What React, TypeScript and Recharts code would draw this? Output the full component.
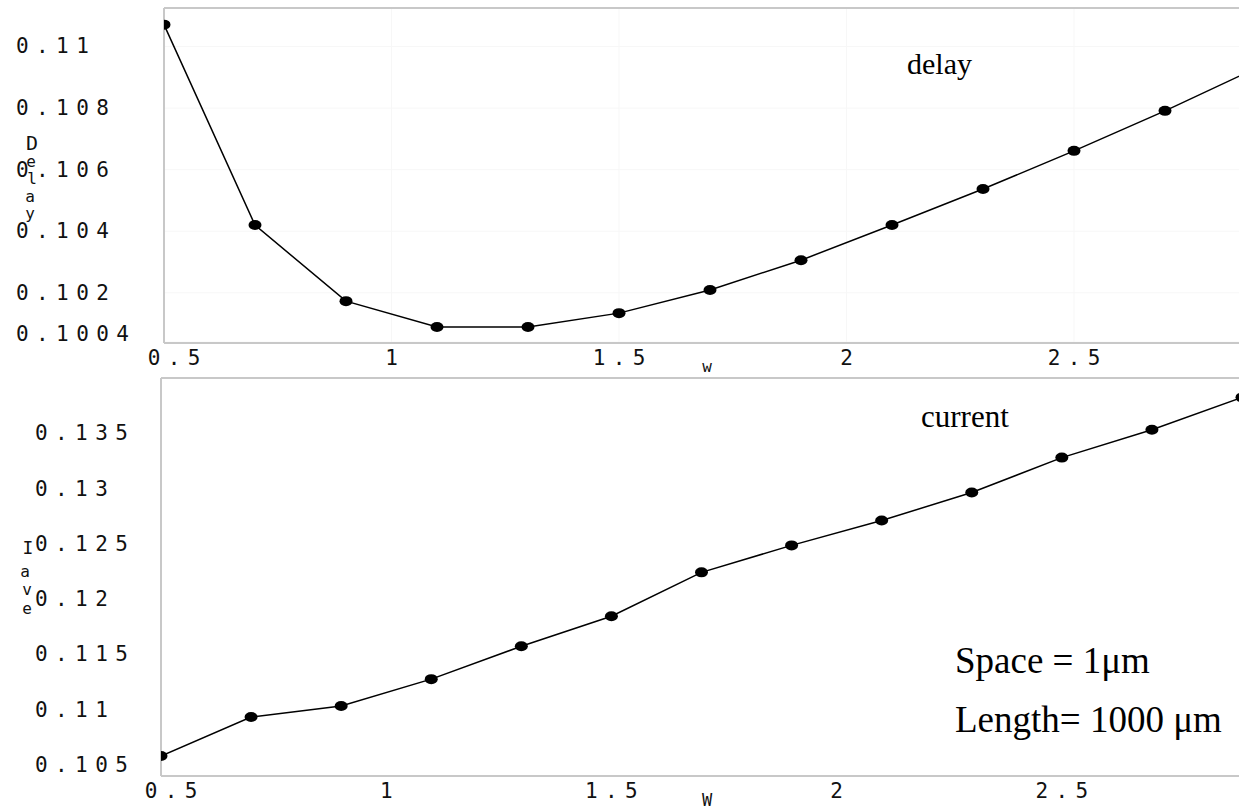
import { CartesianGrid, Line, LineChart, ReferenceLine, XAxis, YAxis } from "recharts";

// W sweep (um) shared by both panels
const widthValues = [0.5, 0.7, 0.9, 1.1, 1.3, 1.5, 1.7, 1.9, 2.1, 2.3, 2.5, 2.7, 2.9];
const delayValues = [0.11071, 0.1042, 0.10173, 0.10089, 0.10089, 0.10134, 0.10209, 0.10306, 0.1042, 0.10537, 0.10661, 0.10791, 0.10929];
const currentValues = [0.10581, 0.10933, 0.11033, 0.11276, 0.11574, 0.11845, 0.12242, 0.12486, 0.12711, 0.12964, 0.1328, 0.13532, 0.13825];

const xTicks = [0.5, 1, 1.5, 2, 2.5];
const delayTicks = [0.1004, 0.102, 0.104, 0.106, 0.108, 0.11];
const currentTicks = [0.105, 0.11, 0.115, 0.12, 0.125, 0.13, 0.135];

const delayDomain: [number, number] = [0.10037, 0.11125];
const currentDomain: [number, number] = [0.104, 0.14];

const delayData = widthValues.map((w, i) => ({ w, delay: delayValues[i] }));
const currentData = widthValues.map((w, i) => ({ w, current: currentValues[i] }));

const FRAME = "#c8c8c8";
const monoFont = "'DejaVu Sans Mono', monospace";
const serifFont = "'Liberation Serif', 'Times New Roman', serif";
const SPACING = 7.4;

const tickText = {
  fontFamily: monoFont,
  fontSize: 21,
  letterSpacing: SPACING,
  fill: "#111",
};

function XTick(props: any) {
  const { x, y, payload, index } = props;
  return (
    <text x={x + SPACING / 2 + (index === 0 ? 10 : 0)} y={y + 7} textAnchor="middle" dominantBaseline="central" style={tickText}>
      {payload.value}
    </text>
  );
}

function makeYTick(left: number, firstShift: number) {
  return (props: any) => {
    const { y, payload, index } = props;
    return (
      <text x={left} y={y - (index === 0 ? firstShift : 0)} textAnchor="start" dominantBaseline="central" style={tickText}>
        {payload.value}
      </text>
    );
  };
}

function DotMark(props: any) {
  const { cx, cy, index } = props;
  if (cx == null || cy == null) return null;
  return <ellipse key={`dot-${index}`} cx={cx} cy={cy} rx={6.5} ry={5} fill="#000" />;
}

const smallLetter = { fontFamily: monoFont, fontSize: 16, fill: "#111" };

export default function App() {
  return (
    <div style={{ position: "absolute", left: 0, top: 0, width: 1239, height: 812, overflow: "hidden", background: "#fff" }}>
      <div style={{ position: "absolute", left: 0, top: 0 }}>
        <LineChart width={1270} height={380} data={delayData} margin={{ top: 8, right: 14, bottom: 0, left: 16 }}>
          <CartesianGrid stroke="#f7f7f7" />
          <XAxis
            type="number"
            dataKey="w"
            domain={[0.5, 2.9]}
            ticks={xTicks}
            height={37}
            axisLine={{ stroke: FRAME, strokeWidth: 2 }}
            tickLine={false}
            tick={<XTick />}
            allowDataOverflow
          />
          <YAxis
            type="number"
            domain={delayDomain}
            ticks={delayTicks}
            width={148}
            axisLine={{ stroke: FRAME, strokeWidth: 2 }}
            tickLine={false}
            tick={makeYTick(16, 8)}
            allowDataOverflow
          />
          <ReferenceLine y={delayDomain[1]} stroke={FRAME} strokeWidth={2} />
          <Line dataKey="delay" stroke="#000" strokeWidth={1.5} dot={<DotMark />} isAnimationActive={false} />
        </LineChart>
      </div>

      <div style={{ position: "absolute", left: 0, top: 370 }}>
        <LineChart width={1256} height={442} data={currentData} margin={{ top: 8, right: 14, bottom: 0, left: 0 }}>
          <XAxis
            type="number"
            dataKey="w"
            domain={[0.5, 2.9]}
            ticks={xTicks}
            height={36}
            axisLine={{ stroke: FRAME, strokeWidth: 2 }}
            tickLine={false}
            tick={<XTick />}
            allowDataOverflow
          />
          <YAxis
            type="number"
            domain={currentDomain}
            ticks={currentTicks}
            width={161}
            axisLine={{ stroke: FRAME, strokeWidth: 2 }}
            tickLine={false}
            tick={makeYTick(35, 0)}
            allowDataOverflow
          />
          <ReferenceLine y={currentDomain[1]} stroke={FRAME} strokeWidth={2} />
          <Line dataKey="current" stroke="#000" strokeWidth={1.5} dot={<DotMark />} isAnimationActive={false} />
        </LineChart>
      </div>

      <svg width={1239} height={812} style={{ position: "absolute", left: 0, top: 0, pointerEvents: "none" }}>
        {/* axis names, stacked letter by letter */}
        <text x={32} y={143} textAnchor="middle" dominantBaseline="central" style={{ ...smallLetter, fontSize: 20 }}>D</text>
        <text x={31} y={161} textAnchor="middle" dominantBaseline="central" style={smallLetter}>e</text>
        <text x={32} y={178} textAnchor="middle" dominantBaseline="central" style={smallLetter}>l</text>
        <text x={30} y={196} textAnchor="middle" dominantBaseline="central" style={smallLetter}>a</text>
        <text x={30} y={213} textAnchor="middle" dominantBaseline="central" style={smallLetter}>y</text>

        <text x={28} y={547} textAnchor="middle" dominantBaseline="central" style={{ ...smallLetter, fontSize: 18 }}>I</text>
        <text x={25} y={571} textAnchor="middle" dominantBaseline="central" style={smallLetter}>a</text>
        <text x={27} y={589} textAnchor="middle" dominantBaseline="central" style={smallLetter}>v</text>
        <text x={27} y={608} textAnchor="middle" dominantBaseline="central" style={smallLetter}>e</text>

        <text x={707} y={366} textAnchor="middle" dominantBaseline="central" style={smallLetter}>w</text>
        <text x={707} y={800} textAnchor="middle" dominantBaseline="central" style={{ ...smallLetter, fontSize: 17 }}>W</text>

        {/* annotations */}
        <text x={907} y={74} style={{ fontFamily: serifFont, fontSize: 30, fill: "#000" }}>delay</text>
        <text x={921} y={427} style={{ fontFamily: serifFont, fontSize: 31, fill: "#000" }}>current</text>
        <text x={955} y={673} style={{ fontFamily: serifFont, fontSize: 37, fill: "#000" }}>Space = 1μm</text>
        <text x={955} y={732} style={{ fontFamily: serifFont, fontSize: 37, fill: "#000" }}>Length= 1000 μm</text>
      </svg>
    </div>
  );
}
